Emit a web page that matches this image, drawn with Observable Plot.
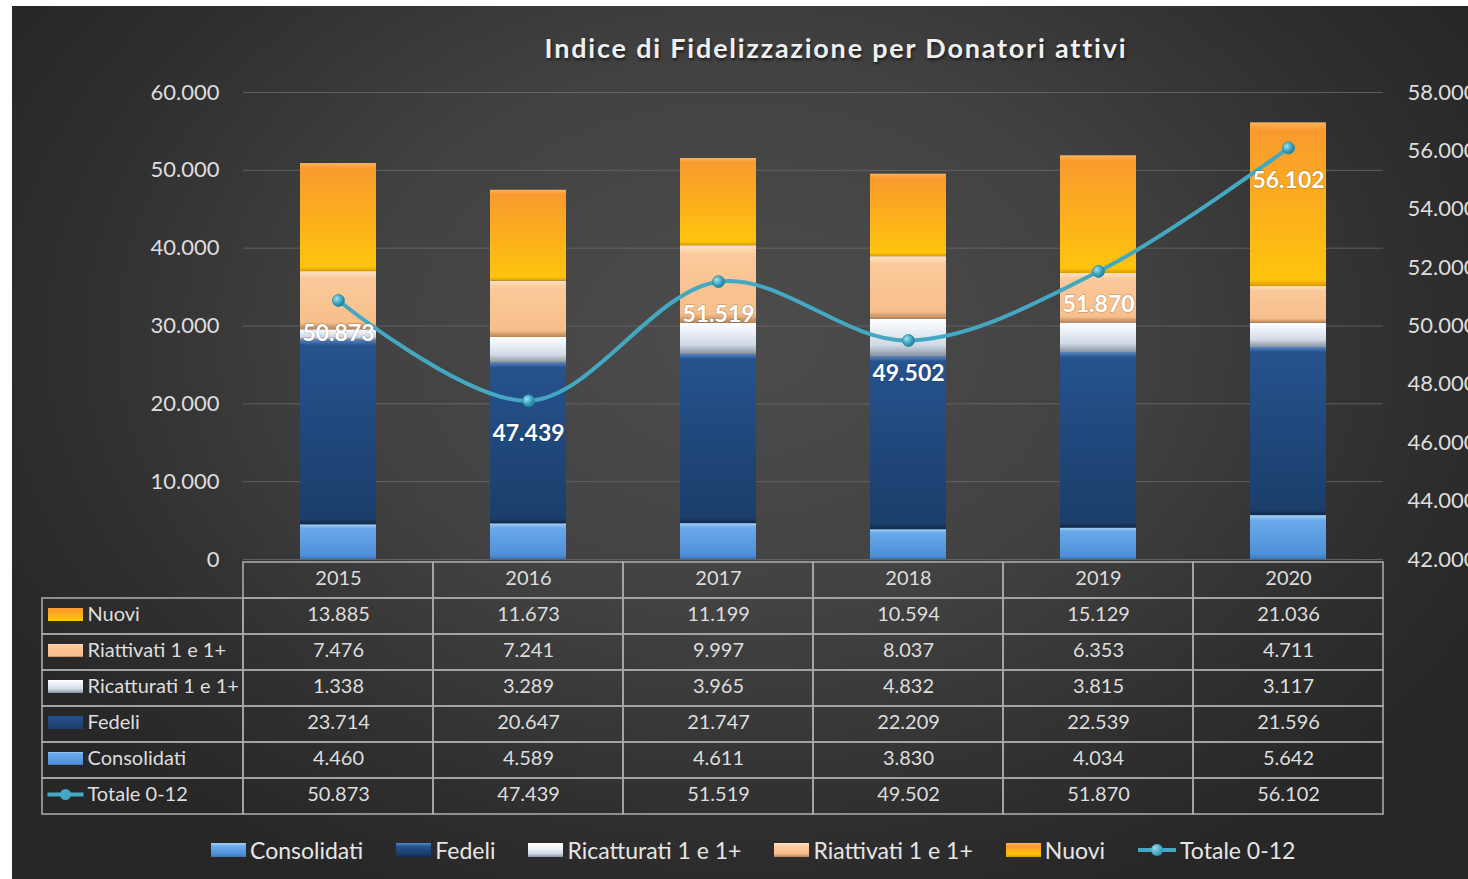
<!DOCTYPE html>
<html>
<head>
<meta charset="utf-8">
<script src="https://cdn.jsdelivr.net/npm/d3@7"></script>
<script src="https://cdn.jsdelivr.net/npm/@observablehq/plot@0.6"></script>
<style>
  html, body { margin: 0; padding: 0; background: #ffffff; }
  body { width: 1468px; height: 879px; overflow: hidden; position: relative; font-family: Lato, "Open Sans", sans-serif; }
  #bg { position: absolute; left: 12px; top: 6px; width: 1456px; height: 873px;
        background: radial-gradient(ellipse 58% 70% at 50% 38%, #4c4c4c 0%, #424242 45%, #2f2f2f 80%, #272727 100%); }
  .abs { position: absolute; }
  #title { position: absolute; left: 0; width: 1672px; top: 31px; text-align: center; color: #f0f0f0;
           font-weight: bold; font-size: 27px; letter-spacing: 1.8px; text-shadow: 1px 2px 3px rgba(0,0,0,0.6); }
  #legend { position: absolute; left: 211px; top: 836px; display: flex; align-items: center; gap: 33px;
            color: #e6e6e6; font-size: 23px; white-space: nowrap; }
  .li { display: flex; align-items: center; gap: 4px; }
  .sw { width: 35px; height: 14px; display: inline-block; }
  .sw-line { width: 38px; height: 14px; position: relative; display: inline-block; }
  .sw-line::before { content: ""; position: absolute; left: 0; right: 0; top: 5px; height: 4px; background: #45a8c2; }
  .sw-line::after { content: ""; position: absolute; left: 13px; top: 1px; width: 12px; height: 12px; border-radius: 50%;
                    background: radial-gradient(circle at 35% 35%, #8fdcef, #2f95b2 70%); }
</style>
</head>
<body>
<svg width="0" height="0" style="position:absolute">
  <defs>
    <linearGradient id="gCons" x1="0" y1="0" x2="0" y2="1">
      <stop offset="0" stop-color="#a6d2f7"/><stop offset="0.12" stop-color="#6aa9ea"/>
      <stop offset="0.9" stop-color="#4e8fd9"/><stop offset="1" stop-color="#3a74b8"/>
    </linearGradient>
    <linearGradient id="gFed" x1="0" y1="0" x2="0" y2="1">
      <stop offset="0" stop-color="#5687c4"/><stop offset="0.03" stop-color="#26528d"/>
      <stop offset="0.97" stop-color="#1b3e6b"/><stop offset="1" stop-color="#0f2748"/>
    </linearGradient>
    <linearGradient id="gRic" x1="0" y1="0" x2="0" y2="1">
      <stop offset="0" stop-color="#ffffff"/><stop offset="0.25" stop-color="#eef3f9"/>
      <stop offset="0.7" stop-color="#d0d9e5"/><stop offset="1" stop-color="#8893a3"/>
    </linearGradient>
    <linearGradient id="gRia" x1="0" y1="0" x2="0" y2="1">
      <stop offset="0" stop-color="#fde3c6"/><stop offset="0.12" stop-color="#fbc99a"/>
      <stop offset="0.88" stop-color="#f7bf8c"/><stop offset="1" stop-color="#b78558"/>
    </linearGradient>
    <linearGradient id="gNuo" x1="0" y1="0" x2="0" y2="1">
      <stop offset="0" stop-color="#fbb55a"/><stop offset="0.05" stop-color="#f99a2e"/>
      <stop offset="0.96" stop-color="#ffc40c"/><stop offset="1" stop-color="#dc9a00"/>
    </linearGradient>
    <radialGradient id="gDot" cx="0.35" cy="0.35" r="0.7">
      <stop offset="0" stop-color="#9de3f3"/><stop offset="0.6" stop-color="#3aa2bf"/><stop offset="1" stop-color="#1f7893"/>
    </radialGradient>
  </defs>
</svg>
<div id="bg"></div>
<div id="title"></div>
<div id="chart" class="abs" style="left:0;top:0"></div>
<div id="table" class="abs" style="left:0;top:558px"></div>
<div id="rowhead" class="abs" style="left:41px;top:595px"></div>
<div id="legend"></div>
<script>
// ---- data ----
const years = ["2015", "2016", "2017", "2018", "2019", "2020"];
const consolidati = [4460, 4589, 4611, 3830, 4034, 5642];
const fedeli = [23714, 20647, 21747, 22209, 22539, 21596];
const ricatturati = [1338, 3289, 3965, 4832, 3815, 3117];
const riattivati = [7476, 7241, 9997, 8037, 6353, 4711];
const nuovi = [13885, 11673, 11199, 10594, 15129, 21036];
const totale = [50873, 47439, 51519, 49502, 51870, 56102];
const seriesNames = ["Consolidati", "Fedeli", "Ricatturati 1 e 1+", "Riattivati 1 e 1+", "Nuovi"];
const lineName = "Totale 0-12";
const tableRows = ["Nuovi", "Riattivati 1 e 1+", "Ricatturati 1 e 1+", "Fedeli", "Consolidati", "Totale 0-12"];
const leftTicks = [0, 10000, 20000, 30000, 40000, 50000, 60000];
const rightTicks = [42000, 44000, 46000, 48000, 50000, 52000, 54000, 56000, 58000];
const titleText = "Indice di Fidelizzazione per Donatori attivi";

// ---- styles ----
const fills = {
  "Consolidati": "url(#gCons)", "Fedeli": "url(#gFed)", "Ricatturati 1 e 1+": "url(#gRic)",
  "Riattivati 1 e 1+": "url(#gRia)", "Nuovi": "url(#gNuo)"
};
const cssFills = {
  "Consolidati": "linear-gradient(#a6d2f7, #6aa9ea 25%, #4e8fd9 80%, #3a74b8)",
  "Fedeli": "linear-gradient(#5687c4, #26528d 25%, #1b3e6b 80%, #0f2748)",
  "Ricatturati 1 e 1+": "linear-gradient(#ffffff, #eef3f9 40%, #d0d9e5 75%, #8893a3)",
  "Riattivati 1 e 1+": "linear-gradient(#fde3c6, #fbc99a 30%, #f7bf8c 75%, #b78558)",
  "Nuovi": "linear-gradient(#fbb55a, #f99a2e 25%, #ffc40c 80%, #dc9a00)"
};
const lineColor = "#45a8c2";
const textColor = "#dedede";
const borderColor = "#a8a8a8";

const locale = d3.formatLocale({decimal: ",", thousands: ".", grouping: [3], currency: ["€", ""]});
const fmt = locale.format(",d");

const seriesValues = [consolidati, fedeli, ricatturati, riattivati, nuovi];
const stackData = years.flatMap((yr, i) => seriesNames.map((s, k) => ({year: yr, series: s, value: seriesValues[k][i]})));
const lineData = years.map((yr, i) => ({year: yr, value: totale[i]}));

// right axis (42.000–58.000) mapped onto left axis (0–60.000)
const rMin = rightTicks[0], rMax = rightTicks[rightTicks.length - 1];
const lMax = leftTicks[leftTicks.length - 1];
const toLeft = v => (v - rMin) / (rMax - rMin) * lMax;
const fromLeft = v => rMin + v / lMax * (rMax - rMin);

document.getElementById("title").textContent = titleText;

const chart = Plot.plot({
  width: 1468, height: 560,
  marginLeft: 243, marginRight: 85, marginTop: 92, marginBottom: 1,
  style: {background: "transparent", color: textColor, fontFamily: "Lato, sans-serif", fontSize: "22px", overflow: "visible"},
  x: {domain: years, paddingInner: 0.6, paddingOuter: 0.3, axis: null},
  y: {domain: [0, lMax], axis: null},
  color: {type: "identity"},
  marks: [
    Plot.gridY(leftTicks, {stroke: "#6a6a6a", strokeOpacity: 0.8, strokeWidth: 1}),
    Plot.axisY(leftTicks, {anchor: "left", tickSize: 0, tickPadding: 24, tickFormat: fmt, fontSize: 22, fill: textColor, label: null}),
    Plot.axisY(rightTicks.map(toLeft), {anchor: "right", tickSize: 0, tickPadding: 24, tickFormat: d => fmt(Math.round(fromLeft(d))), fontSize: 22, fill: textColor, label: null}),
    Plot.barY(stackData, {x: "year", y: "value", z: "series", order: seriesNames, fill: d => fills[d.series]}),
    Plot.line(lineData, {x: "year", y: d => toLeft(d.value), stroke: lineColor, strokeWidth: 4, curve: "catmull-rom"}),
    Plot.dot(lineData, {x: "year", y: d => toLeft(d.value), r: 6, fill: "url(#gDot)", stroke: "#2a8aa5", strokeWidth: 0.8}),
    Plot.text(lineData, {x: "year", y: d => toLeft(d.value), text: d => fmt(d.value), dy: 33, fill: "#ffffff",
      fontWeight: "bold", fontSize: 23, stroke: "rgba(0,0,0,0.2)", strokeWidth: 1.5})
  ]
});
document.getElementById("chart").appendChild(chart);

// ---- data table ----
const header = "Anno";
const tableValues = {
  "Nuovi": nuovi, "Riattivati 1 e 1+": riattivati, "Ricatturati 1 e 1+": ricatturati,
  "Fedeli": fedeli, "Consolidati": consolidati, "Totale 0-12": totale
};
const tableCells = years.flatMap((yr, i) => [
  {year: yr, row: header, label: yr},
  ...tableRows.map(r => ({year: yr, row: r, label: fmt(tableValues[r][i])}))
]);

const table = Plot.plot({
  width: 1468, height: 260,
  marginLeft: 243, marginRight: 85, marginTop: 1, marginBottom: 2,
  style: {background: "transparent", color: textColor, fontFamily: "Lato, sans-serif", fontSize: "20px", overflow: "visible"},
  x: {domain: years, padding: 0, axis: null},
  y: {domain: [header, ...tableRows], padding: 0, axis: null},
  marks: [
    Plot.cell(tableCells, {x: "year", y: "row", fill: "none", stroke: borderColor, strokeWidth: 1.6}),
    Plot.text(tableCells, {x: "year", y: "row", text: "label", fill: textColor, fontSize: 20, dy: -2})
  ]
});
document.getElementById("table").appendChild(table);

// row headers with keys
const rectSymbol = {draw(ctx) { ctx.rect(-17.5, -6.5, 35, 13); }};
const lineSymbol = {draw(ctx) { ctx.rect(-18, -2, 36, 4); ctx.moveTo(5.5, 0); ctx.arc(0, 0, 5.5, 0, 2 * Math.PI); }};
const rowFill = r => r === lineName ? lineColor : fills[r];
const rowhead = Plot.plot({
  width: 203, height: 221,
  marginLeft: 1, marginRight: 1, marginTop: 1, marginBottom: 0,
  style: {background: "transparent", color: textColor, fontFamily: "Lato, sans-serif", fontSize: "20px", overflow: "visible"},
  y: {domain: tableRows, padding: 0, axis: null},
  color: {type: "identity"},
  marks: [
    Plot.cell(tableRows, {y: d => d, fill: "none", stroke: borderColor, strokeWidth: 1.6}),
    Plot.dot(tableRows.filter(r => r !== lineName), {y: d => d, frameAnchor: "left", dx: 23, dy: -2, symbol: rectSymbol, fill: rowFill, stroke: "none"}),
    Plot.dot([lineName], {y: d => d, frameAnchor: "left", dx: 23, dy: -2, symbol: lineSymbol, fill: lineColor, stroke: "none"}),
    Plot.text(tableRows, {y: d => d, text: d => d, frameAnchor: "left", dx: 45, textAnchor: "start", fill: textColor, fontSize: 20, dy: -2})
  ]
});
document.getElementById("rowhead").appendChild(rowhead);

// ---- bottom legend ----
const legend = document.getElementById("legend");
for (const s of seriesNames) {
  const item = document.createElement("div"); item.className = "li";
  const sw = document.createElement("span"); sw.className = "sw"; sw.style.background = cssFills[s];
  const tx = document.createElement("span"); tx.textContent = s;
  item.append(sw, tx); legend.appendChild(item);
}
{
  const item = document.createElement("div"); item.className = "li";
  const sw = document.createElement("span"); sw.className = "sw-line";
  const tx = document.createElement("span"); tx.textContent = lineName;
  item.append(sw, tx); legend.appendChild(item);
}
</script>
</body>
</html>
